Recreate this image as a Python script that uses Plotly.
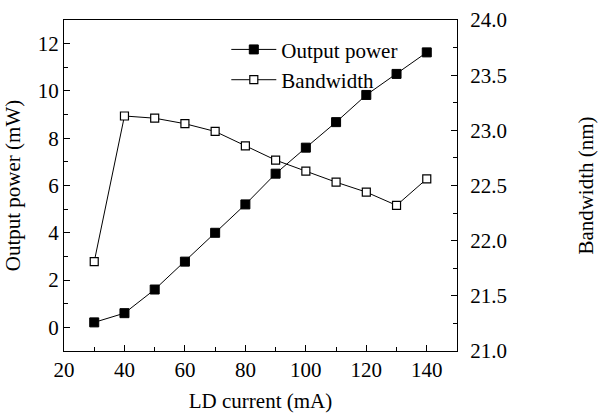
import plotly.graph_objects as go

current = [30, 40, 50, 60, 70, 80, 90, 100, 110, 120, 130, 140]
output_power = [0.21, 0.6, 1.6, 2.78, 4.0, 5.2, 6.5, 7.6, 8.68, 9.83, 10.72, 11.63]
bandwidth = [21.81, 23.13, 23.11, 23.06, 22.99, 22.86, 22.73, 22.63, 22.53, 22.44, 22.32, 22.56]

FONT = "Liberation Serif"
FS = 21

fig = go.Figure()
fig.add_trace(go.Scatter(
    x=current, y=output_power, name="Output power", mode="lines+markers",
    legendgroup="a",
    line=dict(color="black", width=1),
    marker=dict(symbol="square", size=9, color="black", line=dict(color="black", width=1)),
    yaxis="y"))
fig.add_trace(go.Scatter(
    x=current, y=bandwidth, name="Bandwidth", mode="lines+markers",
    legendgroup="b",
    line=dict(color="black", width=1),
    marker=dict(symbol="square", size=8, color="white", line=dict(color="black", width=1.2)),
    yaxis="y2"))

axis_common = dict(showline=True, linecolor="black", linewidth=1.2, ticks="inside",
                   ticklen=6, tickwidth=1, tickcolor="black", showgrid=False, zeroline=False,
                   automargin=False,
                   tickfont=dict(family=FONT, size=FS, color="black"))

fig.update_layout(
    width=614, height=413,
    margin=dict(l=64, r=157, t=20, b=62),
    plot_bgcolor="white", paper_bgcolor="white",
    font=dict(family=FONT, size=FS, color="black"),
    xaxis=dict(range=[20, 150], dtick=20, tick0=20, mirror=True,
               minor=dict(dtick=10, ticklen=4, tickcolor="black", ticks="inside"),
               title=dict(text="LD current (mA)", font=dict(family=FONT, size=FS), standoff=17),
               **axis_common),
    yaxis=dict(range=[-1, 13], dtick=2, tick0=0,
               minor=dict(dtick=1, ticklen=4, tickcolor="black", ticks="inside"),
               title=dict(text="Output power (mW)", font=dict(family=FONT, size=FS), standoff=11),
               **axis_common),
    yaxis2=dict(range=[21, 24], dtick=0.5, tick0=21, overlaying="y", side="right",
                tickformat=".1f", ticklabelstandoff=8,
                minor=dict(dtick=0.25, ticklen=4, tickcolor="black", ticks="inside"),
                title=dict(text="Bandwidth (nm)", font=dict(family=FONT, size=FS), standoff=72),
                **axis_common),
    legend=dict(x=0.413, y=0.972, xanchor="left", yanchor="top", bgcolor="rgba(0,0,0,0)",
                font=dict(family=FONT, size=FS), itemwidth=45, tracegroupgap=0,
                traceorder="grouped"),
    showlegend=True,
)

fig.write_html("out.html")
